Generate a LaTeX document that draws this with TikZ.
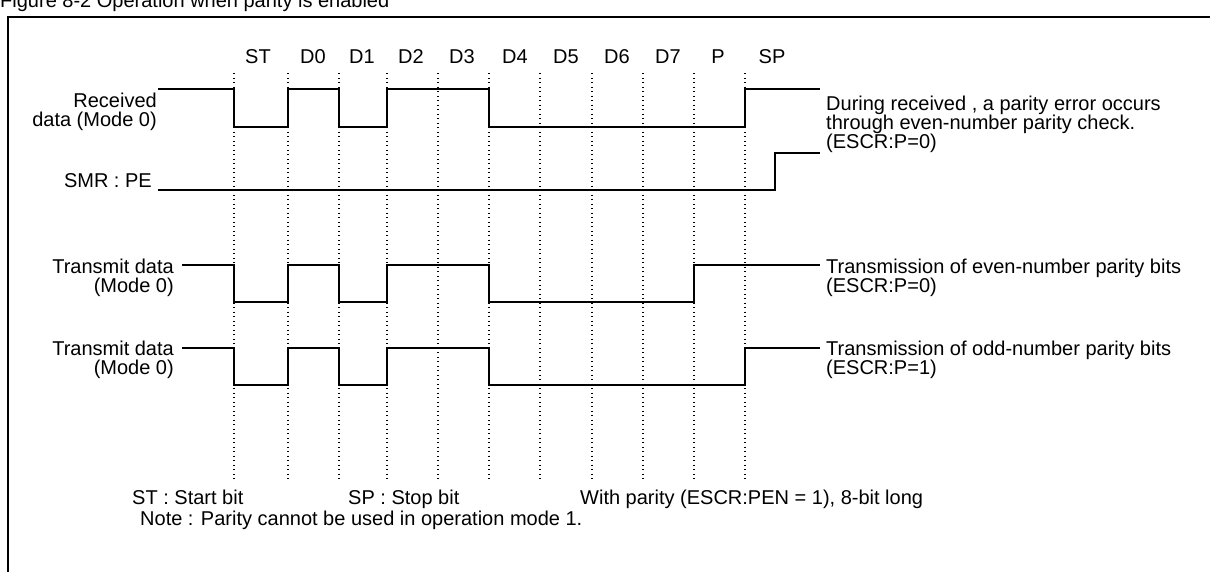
\documentclass[tikz,border=0pt]{standalone}
\usepackage{fontspec}
\setmainfont{Liberation Sans}
\begin{document}
\begin{tikzpicture}[x=1pt,y=-1pt,
  wave/.style={line width=1.4pt},
  gridline/.style={line width=1.1pt, dash pattern=on 1.2pt off 3.3pt},
  lbl/.style={font=\fontsize{20}{22}\selectfont, inner sep=0pt}]
\useasboundingbox (0,0) rectangle (1210,571);
\clip (0,0) rectangle (1210,571);
% title (clipped at top) and frame
\node[lbl, anchor=base west] (title) at (0,7) {Figure 8-2 Operation when parity is enabled};
\draw[line width=2pt] (1220,17) -- (8,17) -- (8,590);
% column labels
\foreach \t/\x in {ST/258,D0/313,D1/362,D2/411,D3/462,D4/515,D5/566,D6/617,D7/668,P/718,SP/772}
  \node[lbl, anchor=base] (col\t) at (\x,63) {\t};
% dotted guide lines
\foreach \x in {234,288,339,387,438,489,540,592,643,694,745}
  \draw[gridline] (\x,73) -- (\x,480);
% received data
\node[lbl, anchor=base east] (rx1) at (157,107) {Received};
\node[lbl, anchor=base east] (rx2) at (157,126) {data (Mode 0)};
\draw[wave] (158,89) -- (234,89) -- (234,127) -- (288,127) -- (288,89) -- (339,89) -- (339,127)
  -- (387,127) -- (387,89) -- (489,89) -- (489,127) -- (745,127) -- (745,89) -- (820,89);
% SMR:PE
\node[lbl, anchor=base east] (pe) at (152,187) {SMR : PE};
\draw[wave] (158,190) -- (775,190) -- (775,153) -- (820,153);
\node[lbl, anchor=base west] (n1a) at (826,110) {During received , a parity error occurs};
\node[lbl, anchor=base west] (n1b) at (826,129) {through even-number parity check.};
\node[lbl, anchor=base west] (n1c) at (826,148) {(ESCR:P=0)};
% transmit data 1
\node[lbl, anchor=base east] (tx1a) at (174,273) {Transmit data};
\node[lbl, anchor=base east] (tx1b) at (174,292) {(Mode 0)};
\draw[wave] (182,265) -- (234,265) -- (234,302) -- (288,302) -- (288,265) -- (339,265) -- (339,302)
  -- (387,302) -- (387,265) -- (489,265) -- (489,302) -- (694,302) -- (694,265) -- (820,265);
\node[lbl, anchor=base west] (n2a) at (826,273) {Transmission of even-number parity bits};
\node[lbl, anchor=base west] (n2b) at (826,292) {(ESCR:P=0)};
% transmit data 2
\node[lbl, anchor=base east] (tx2a) at (174,355) {Transmit data};
\node[lbl, anchor=base east] (tx2b) at (174,374) {(Mode 0)};
\draw[wave] (182,348) -- (234,348) -- (234,385) -- (288,385) -- (288,348) -- (339,348) -- (339,385)
  -- (387,385) -- (387,348) -- (489,348) -- (489,385) -- (745,385) -- (745,348) -- (820,348);
\node[lbl, anchor=base west] (n3a) at (826,355) {Transmission of odd-number parity bits};
\node[lbl, anchor=base west] (n3b) at (826,374) {(ESCR:P=1)};
% bottom notes
\node[lbl, anchor=base west] (st) at (132,504) {ST : Start bit};
\node[lbl, anchor=base west] (sp) at (348,504) {SP : Stop bit};
\node[lbl, anchor=base west] (wp) at (580,504) {With parity (ESCR:PEN = 1), 8-bit long};
\node[lbl, anchor=base west] (note) at (140,525) {Note : Parity cannot be used in operation mode 1.};
\end{tikzpicture}
\end{document}
